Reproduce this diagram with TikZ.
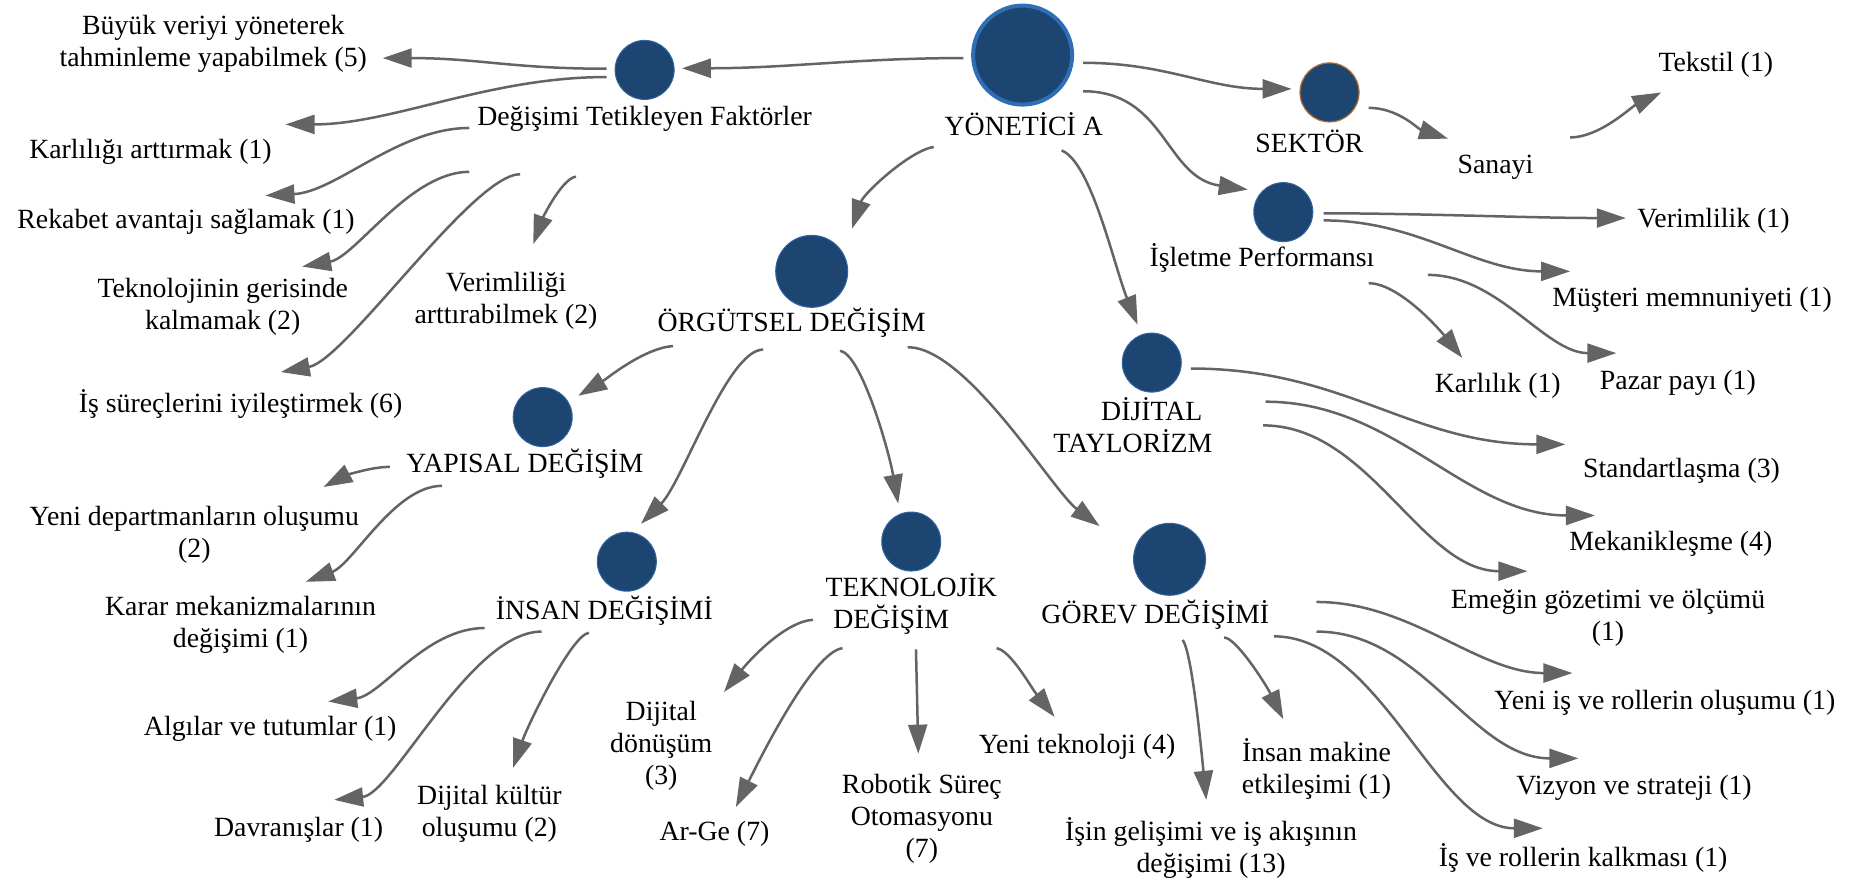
\documentclass[tikz,border=0pt]{standalone}
\usepackage{fontspec}
\setmainfont{Liberation Serif}
\usetikzlibrary{arrows.meta}
\definecolor{navy}{RGB}{28,69,113}
\definecolor{navyedge}{RGB}{52,100,160}
\definecolor{ringblue}{RGB}{46,110,180}
\definecolor{sektoredge}{RGB}{176,110,50}
\definecolor{linkgray}{RGB}{100,100,100}
\begin{document}
\begin{tikzpicture}[x=1.185pt,y=-1.185pt,
  hub/.style={circle,fill=navy,draw=navyedge,line width=1pt,minimum size=59pt,inner sep=0pt},
  lbl/.style={font=\fontsize{27.8}{32}\selectfont,align=center,inner sep=0pt,text=black},
  conn/.style={draw=linkgray,line width=2.5pt,-{Triangle[length=29pt,width=19pt]}}]
\useasboundingbox[fill=white] (0,0) rectangle (1568,747);

% ---- circles ----
\node[hub,minimum size=99pt,draw=ringblue,line width=4pt] (yon) at (863,46.5) {};
\node[hub] (deg) at (544,59) {};
\node[hub,draw=sektoredge,line width=1.2pt] (sek) at (1122,78) {};
\node[hub] (isl) at (1083,179) {};
\node[hub,minimum size=72pt] (org) at (685,229) {};
\node[hub] (dij) at (972,306) {};
\node[hub] (yap) at (458,352) {};
\node[hub] (ins) at (529,474) {};
\node[hub] (tek) at (769,457) {};
\node[hub,minimum size=72pt] (gor) at (987,472) {};

% ---- labels ----
\node[lbl] (yon-l) at (864,105) {YÖNETİCİ A};
\node[lbl] (deg-l) at (544,100) {Değişimi Tetikleyen Faktörler};
\node[lbl] (sek-l) at (1105,119) {SEKTÖR};
\node[lbl] (sanayi) at (1262,141) {Sanayi};
\node[lbl] (tekstil) at (1448,55) {Tekstil (1)};
\node[lbl] (isl-l) at (1065,218) {İşletme Performansı};
\node[lbl] (verim) at (1446,186) {Verimlilik (1)};
\node[lbl] (musteri) at (1428,253) {Müşteri memnuniyeti (1)};
\node[lbl] (karlilik) at (1264,326) {Karlılık (1)};
\node[lbl] (pazar) at (1416,323) {Pazar payı (1)};
\node[lbl] (org-l) at (668,272) {ÖRGÜTSEL DEĞİŞİM};
\node[lbl] (dij-l) at (956,359) {\hspace*{38pt}DİJİTAL\\TAYLORİZM};
\node[lbl] (standart) at (1419,397) {Standartlaşma (3)};
\node[lbl] (mekanik) at (1410,459) {Mekanikleşme (4)};
\node[lbl] (emegin) at (1357,521) {Emeğin gözetimi ve ölçümü\\(1)};
\node[lbl] (yap-l) at (443,391) {YAPISAL DEĞİŞİM};
\node[lbl] (yenidep) at (164,451) {Yeni departmanların oluşumu\\(2)};
\node[lbl] (karar) at (203,527) {Karar mekanizmalarının\\değişimi (1)};
\node[lbl] (ins-l) at (510,515) {İNSAN DEĞİŞİMİ};
\node[lbl] (algilar) at (228,615) {Algılar ve tutumlar (1)};
\node[lbl] (davran) at (252,700) {Davranışlar (1)};
\node[lbl] (dijkultur) at (413,687) {Dijital kültür\\oluşumu (2)};
\node[lbl] (tek-l) at (769,510) {TEKNOLOJİK\\DEĞİŞİM\hspace*{40pt}};
\node[lbl] (dijdon) at (558,629) {Dijital\\dönüşüm\\(3)};
\node[lbl] (arge) at (603,704) {Ar-Ge (7)};
\node[lbl] (robotik) at (778,691) {Robotik Süreç\\Otomasyonu\\(7)};
\node[lbl] (yenitek) at (909,630) {Yeni teknoloji (4)};
\node[lbl] (gor-l) at (975,519) {GÖREV DEĞİŞİMİ};
\node[lbl] (isin) at (1022,716) {İşin gelişimi ve iş akışının\\değişimi (13)};
\node[lbl] (insmak) at (1111,649) {İnsan makine\\etkileşimi (1)};
\node[lbl] (yeniis) at (1405,593) {Yeni iş ve rollerin oluşumu (1)};
\node[lbl] (vizyon) at (1379,665) {Vizyon ve strateji (1)};
\node[lbl] (iskalk) at (1336,724) {İş ve rollerin kalkması (1)};
\node[lbl] (buyuk) at (180,37) {Büyük veriyi yöneterek\\tahminleme yapabilmek (5)};
\node[lbl] (karlil) at (127,128) {Karlılığı arttırmak (1)};
\node[lbl] (rekabet) at (157,187) {Rekabet avantajı sağlamak (1)};
\node[lbl] (teknoloj) at (188,259) {Teknolojinin gerisinde\\kalmamak (2)};
\node[lbl] (issurec) at (203,341) {İş süreçlerini iyileştirmek (6)};
\node[lbl] (verimlig) at (427,254) {Verimliliği\\arttırabilmek (2)};

% ---- connector ends ----
\coordinate (yon-o1) at (813,49);   \coordinate (deg-i) at (575.5,57.6);
\coordinate (yon-o2) at (914,53);   \coordinate (sek-i) at (1090,75);
\coordinate (yon-o3) at (914,77);   \coordinate (isl-i) at (1053,160);
\coordinate (yon-o4) at (896,127);  \coordinate (dij-i) at (960,274);
\coordinate (yon-o5) at (788,124);  \coordinate (org-i) at (719,193);

\coordinate (deg-o1) at (512,58);   \coordinate (buyuk-i) at (323,49);
\coordinate (deg-o2) at (512,65);   \coordinate (karlil-i) at (241,105);
\coordinate (deg-o3) at (396,108);  \coordinate (rekabet-i) at (224,165);
\coordinate (deg-o4) at (396,145);  \coordinate (teknoloj-i) at (255,225);
\coordinate (deg-o5) at (439,147);  \coordinate (issurec-i) at (237,314);
\coordinate (deg-o6) at (486,149);  \coordinate (verimlig-i) at (450,206);

\coordinate (sek-o) at (1155,91);   \coordinate (sanayi-i) at (1222,117);
\coordinate (sanayi-o) at (1325,116); \coordinate (tekstil-i) at (1402,78);

\coordinate (isl-o1) at (1117,180); \coordinate (verim-i) at (1372,184);
\coordinate (isl-o2) at (1117,186); \coordinate (musteri-i) at (1325,229);
\coordinate (isl-o3) at (1155,239); \coordinate (karlilik-i) at (1234,302);
\coordinate (isl-o4) at (1205,232); \coordinate (pazar-i) at (1364,298);

\coordinate (org-o1) at (568,292);  \coordinate (yap-i) at (488,334);
\coordinate (org-o2) at (644,295);  \coordinate (ins-i) at (541,442);
\coordinate (org-o3) at (709,296);  \coordinate (tek-i) at (758,425);
\coordinate (org-o4) at (766,293);  \coordinate (gor-i) at (928,444);

\coordinate (dij-o1) at (1005,311); \coordinate (standart-i) at (1321,375);
\coordinate (dij-o2) at (1068,339); \coordinate (mekanik-i) at (1346,435);
\coordinate (dij-o3) at (1066,359); \coordinate (emegin-i) at (1289,482);

\coordinate (yap-o1) at (329,394);  \coordinate (yenidep-i) at (273,411);
\coordinate (yap-o2) at (373,410);  \coordinate (karar-i) at (258,491);

\coordinate (ins-o1) at (409,530);  \coordinate (algilar-i) at (277,592);
\coordinate (ins-o2) at (457,533);  \coordinate (davran-i) at (282,675);
\coordinate (ins-o3) at (497,534);  \coordinate (dijkultur-i) at (433,648);

\coordinate (tek-o1) at (686,523);  \coordinate (dijdon-i) at (611,584);
\coordinate (tek-o2) at (711,547);  \coordinate (arge-i) at (621,681);
\coordinate (tek-o3) at (773,548);  \coordinate (robotik-i) at (775,636);
\coordinate (tek-o4) at (841,547);  \coordinate (yenitek-i) at (890,605);

\coordinate (gor-o1) at (998,540);  \coordinate (isin-i) at (1018,675);
\coordinate (gor-o2) at (1033,538); \coordinate (insmak-i) at (1083,607);
\coordinate (gor-o3) at (1111,508); \coordinate (yeniis-i) at (1327,568);
\coordinate (gor-o4) at (1111,533); \coordinate (vizyon-i) at (1332,640);
\coordinate (gor-o5) at (1075,537); \coordinate (iskalk-i) at (1302,699);

% ---- connectors ----
% from YÖNETİCİ A
\draw[conn] (yon-o1) .. controls +(-90,0) and +(90,0) .. (deg-i);
\draw[conn] (yon-o2) .. controls +(70,0) and +(-70,0) .. (sek-i);
\draw[conn] (yon-o3) .. controls +(70,0) and +(-70,-10) .. (isl-i);
\draw[conn] (yon-o4) .. controls +(25,10) and +(-20,-50) .. (dij-i);
\draw[conn] (yon-o5) .. controls +(-20,3) and +(10,-30) .. (org-i);
% from Değişimi Tetikleyen Faktörler
\draw[conn] (deg-o1) .. controls +(-80,0) and +(80,0) .. (buyuk-i);
\draw[conn] (deg-o2) .. controls +(-100,0) and +(90,0) .. (karlil-i);
\draw[conn] (deg-o3) .. controls +(-60,0) and +(60,-3) .. (rekabet-i);
\draw[conn] (deg-o4) .. controls +(-50,0) and +(45,-8) .. (teknoloj-i);
\draw[conn] (deg-o5) .. controls +(-40,0) and +(55,-10) .. (issurec-i);
\draw[conn] (deg-o6) .. controls +(-12,2) and +(8,-22) .. (verimlig-i);
% from SEKTÖR
\draw[conn] (sek-o) .. controls +(25,0) and +(-25,-8) .. (sanayi-i);
\draw[conn] (sanayi-o) .. controls +(25,0) and +(-25,12) .. (tekstil-i);
% from İşletme Performansı
\draw[conn] (isl-o1) .. controls +(80,0) and +(-80,0) .. (verim-i);
\draw[conn] (isl-o2) .. controls +(80,0) and +(-80,0) .. (musteri-i);
\draw[conn] (isl-o3) .. controls +(25,0) and +(-20,-25) .. (karlilik-i);
\draw[conn] (isl-o4) .. controls +(60,0) and +(-60,0) .. (pazar-i);
% from ÖRGÜTSEL DEĞİŞİM
\draw[conn] (org-o1) .. controls +(-25,2) and +(25,-15) .. (yap-i);
\draw[conn] (org-o2) .. controls +(-30,0) and +(35,-35) .. (ins-i);
\draw[conn] (org-o3) .. controls +(18,3) and +(-8,-45) .. (tek-i);
\draw[conn] (org-o4) .. controls +(50,0) and +(-40,-30) .. (gor-i);
% from DİJİTAL TAYLORİZM
\draw[conn] (dij-o1) .. controls +(130,0) and +(-130,0) .. (standart-i);
\draw[conn] (dij-o2) .. controls +(110,0) and +(-110,0) .. (mekanik-i);
\draw[conn] (dij-o3) .. controls +(90,0) and +(-90,0) .. (emegin-i);
% from YAPISAL DEĞİŞİM
\draw[conn] (yap-o1) .. controls +(-18,0) and +(15,-8) .. (yenidep-i);
\draw[conn] (yap-o2) .. controls +(-40,0) and +(40,-15) .. (karar-i);
% from İNSAN DEĞİŞİMİ
\draw[conn] (ins-o1) .. controls +(-50,0) and +(45,-5) .. (algilar-i);
\draw[conn] (ins-o2) .. controls +(-60,0) and +(50,-5) .. (davran-i);
\draw[conn] (ins-o3) .. controls +(-15,2) and +(12,-35) .. (dijkultur-i);
% from TEKNOLOJİK DEĞİŞİM
\draw[conn] (tek-o1) .. controls +(-25,2) and +(20,-25) .. (dijdon-i);
\draw[conn] (tek-o2) .. controls +(-25,3) and +(20,-40) .. (arge-i);
\draw[conn] (tek-o3) -- (robotik-i);
\draw[conn] (tek-o4) .. controls +(12,2) and +(-20,-25) .. (yenitek-i);
% from GÖREV DEĞİŞİMİ
\draw[conn] (gor-o1) .. controls +(8,10) and +(-4,-40) .. (isin-i);
\draw[conn] (gor-o2) .. controls +(10,0) and +(-15,-30) .. (insmak-i);
\draw[conn] (gor-o3) .. controls +(80,0) and +(-80,0) .. (yeniis-i);
\draw[conn] (gor-o4) .. controls +(90,0) and +(-90,0) .. (vizyon-i);
\draw[conn] (gor-o5) .. controls +(90,0) and +(-90,0) .. (iskalk-i);
\end{tikzpicture}
\end{document}
